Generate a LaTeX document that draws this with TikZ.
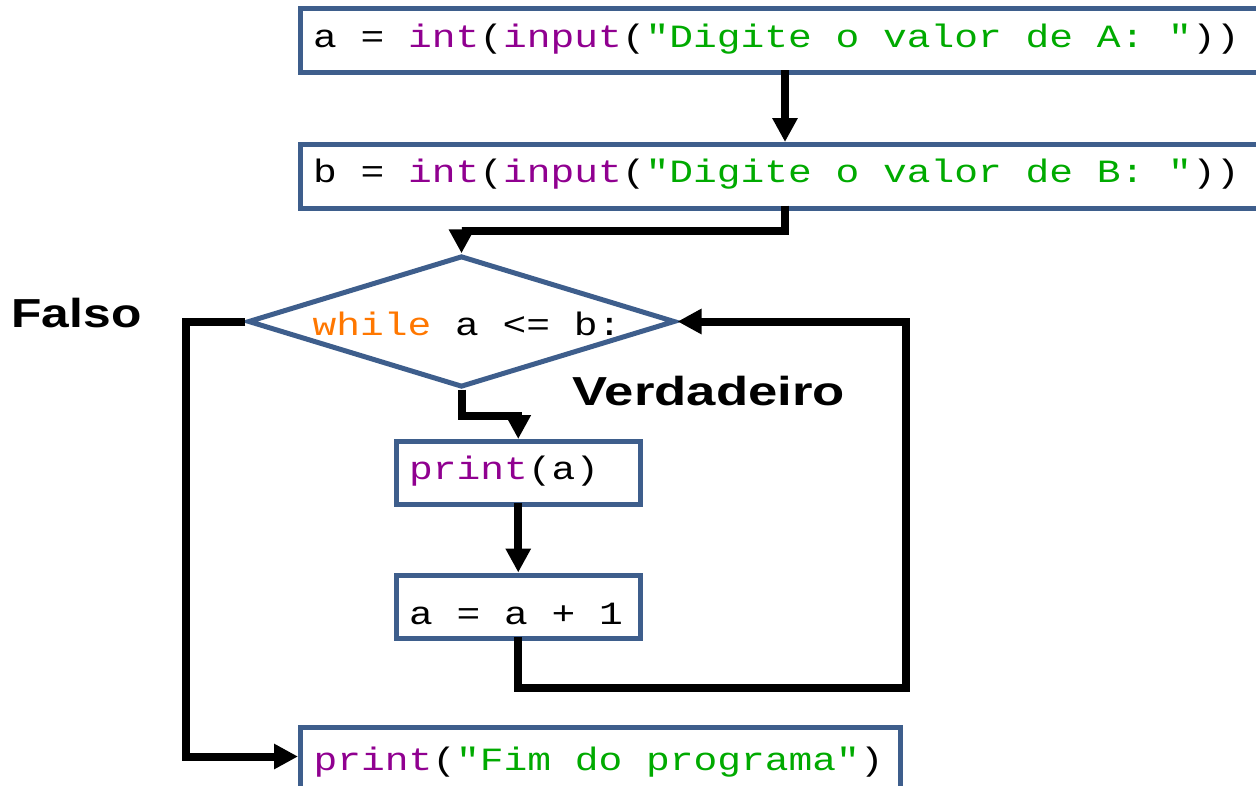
\documentclass[tikz,border=0pt]{standalone}
\usepackage{fontspec}
\usepackage{graphicx}
\usetikzlibrary{arrows.meta,shapes.geometric}
\newfontfamily\codefont{Liberation Mono}[FakeStretch=1.22]
\newfontfamily\lblfont{Liberation Sans}
\definecolor{boxblue}{HTML}{3E5E8C}
\definecolor{cbuiltin}{HTML}{900090}
\definecolor{cstring}{HTML}{00AA00}
\definecolor{ckeyword}{HTML}{FF7700}
\newcommand{\cbi}[1]{\textcolor{cbuiltin}{#1}}
\newcommand{\cstr}[1]{\textcolor{cstring}{#1}}
\newcommand{\ckw}[1]{\textcolor{ckeyword}{#1}}
\begin{document}
\begin{tikzpicture}[x=1pt,y=-1pt,
  codefnt/.style={font=\codefont\fontsize{32.45}{36}\selectfont},
  codebox/.style={codefnt, draw=boxblue, line width=5pt, rectangle, inner xsep=13pt, inner ysep=0pt},
  flow/.style={line width=8pt, -{Triangle[length=24pt,width=24pt]}},
  lbl/.style={inner sep=0pt, anchor=base west, font=\lblfont\bfseries\fontsize{40.5}{44}\selectfont}]
\clip (0,0) rectangle (1256,785);
\useasboundingbox (0,0) rectangle (1256,785);

\node[codebox, minimum width=970pt, minimum height=64pt, text height=20pt, text depth=7pt] (b1) at (785,40.5)
  {\makebox[944pt][l]{a = \cbi{int}(\cbi{input}(\cstr{"Digite o valor de A: "}))}};
\node[codebox, minimum width=970pt, minimum height=63.5pt, text height=20pt, text depth=7pt] (b2) at (785,176.25)
  {\makebox[944pt][l]{b = \cbi{int}(\cbi{input}(\cstr{"Digite o valor de B: "}))}};
\node[codefnt, diamond, draw=boxblue, line width=5pt, minimum width=426pt, minimum height=131pt, aspect=3.25, inner sep=0pt, text height=30pt, text depth=3pt] (d) at (461.5,321.5)
  {\hspace*{11pt}\ckw{while} a <= b:};
\node[codebox, minimum width=244.5pt, minimum height=62.5pt, text height=20pt, text depth=7.5pt] (p1) at (518.25,472.75)
  {\makebox[218.5pt][l]{\cbi{print}(a)}};
\node[codebox, minimum width=244.5pt, minimum height=63pt, text height=38pt, text depth=3pt] (p2) at (518.25,606.5)
  {\makebox[218.5pt][l]{a = a + 1}};
\node[codebox, minimum width=600pt, minimum height=80pt, text height=20pt, text depth=15pt] (p3) at (600.5,767.5)
  {\makebox[574pt][l]{\cbi{print}(\cstr{"Fim do programa"})}};

\node[lbl] (falso) at (11.4,327) {\scalebox{1.227}[1]{Falso}};
\node[lbl] (verd) at (572.5,405) {\scalebox{1.30}[1]{Verdadeiro}};

\coordinate (loopc) at (906,688);
\coordinate (falsoc) at (186,756.5);

\draw[flow, shorten <=-5pt] (b1.south) -- (b2.north);
\draw[flow, shorten <=-5pt] (b2.south) -- ++(0,20.5) -| (d.north);
\draw[flow] (d.south) -- ++(0,26.5) -| (p1.north);
\draw[flow, shorten <=-4pt] (p1.south) -- (p2.north);
\draw[flow, shorten <=-4pt] (p2.south) |- (loopc) |- (d.east);
\draw[flow] (d.west) -| (falsoc) -- (falsoc -| p3.west);
\end{tikzpicture}
\end{document}
